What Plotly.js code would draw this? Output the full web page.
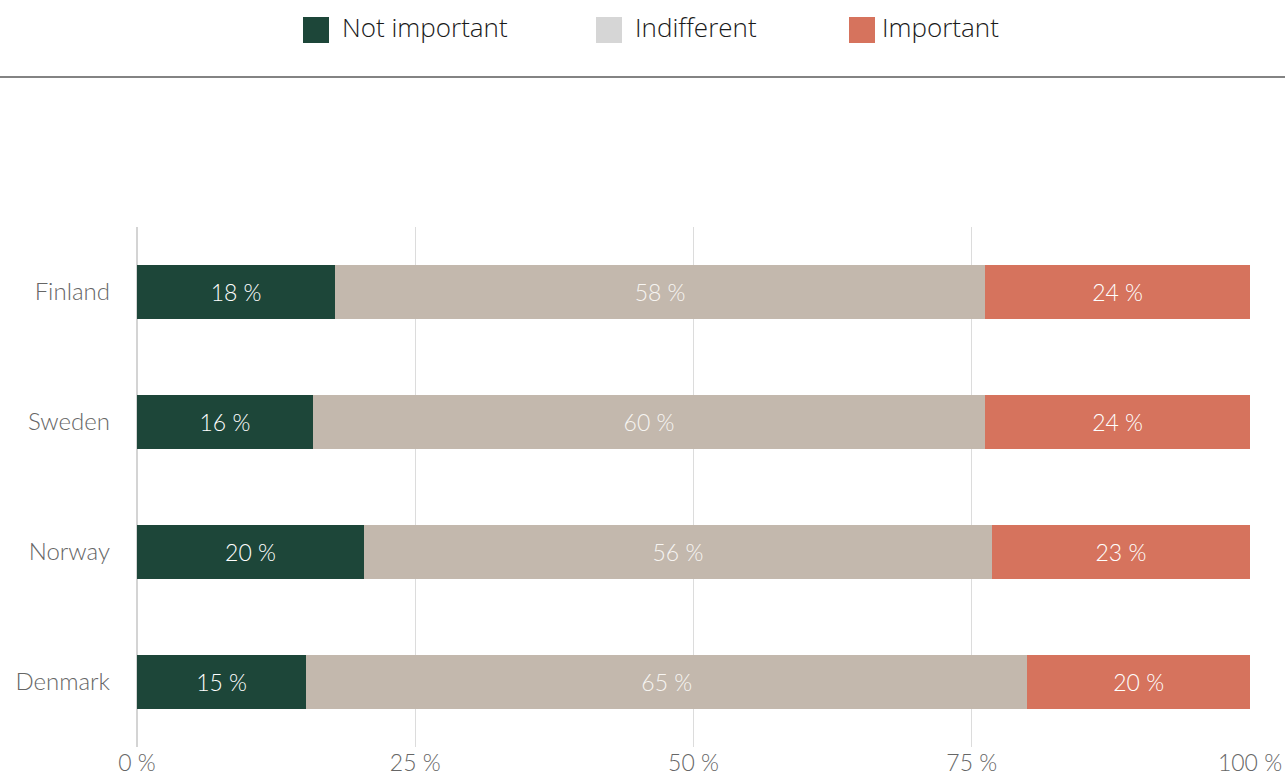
<!DOCTYPE html>
<html>
<head>
<meta charset="utf-8">
<script src="https://cdn.plot.ly/plotly-3.0.1.min.js"></script>
<style>html,body{margin:0;padding:0;background:#fff;}#chart{width:1285px;height:777px;}</style>
</head>
<body>
<div id="chart"></div>
<script>
const countries = ["Finland", "Sweden", "Norway", "Denmark"];
const seriesNames = ["Not important", "Indifferent", "Important"];
const notImportant = [17.8, 15.8, 20.4, 15.2];
const indifferent = [58.4, 60.4, 56.4, 64.8];
const important = [23.8, 23.8, 23.2, 20.0];
const tickVals = [0, 25, 50, 75, 100];
const tickText = ["0 %", "25 %", "50 %", "75 %", "100 %"];

const barColors = ["#1d4639", "#c3b8ad", "#d6735d"];
const legendColors = ["#1d4639", "#d6d6d6", "#d6735d"];
const values = [notImportant, indifferent, important];

const FONT = "Lato, 'Open Sans', sans-serif";

const traces = values.map((v, i) => ({
  type: "bar",
  orientation: "h",
  name: seriesNames[i],
  y: countries,
  x: v,
  width: 0.41,
  marker: { color: barColors[i], line: { width: 0 } },
  texttemplate: "%{x:.0f} %",
  textposition: "inside",
  insidetextanchor: "middle",
  textfont: { family: FONT, size: 23, weight: 300, color: i === 1 ? "#f7f5f2" : "#ffffff" },
  hoverinfo: "skip",
  showlegend: false
}));

const W = 1285, H = 777;
const mL = 137, mR = 35, mT = 227, mB = 30;
const pw = W - mL - mR, ph = H - mT - mB;
const px = x => (x - mL) / pw;
const py = y => (H - mB - y) / ph;

const legendSwatchX = [303, 596, 849];
const legendTextX = [340, 633, 880];
const shapes = [];
const annotations = [];
seriesNames.forEach((n, i) => {
  shapes.push({
    type: "rect", xref: "paper", yref: "paper",
    x0: px(legendSwatchX[i]), x1: px(legendSwatchX[i] + 26),
    y0: py(43), y1: py(17),
    fillcolor: legendColors[i], line: { width: 0 }
  });
  annotations.push({
    xref: "paper", yref: "paper",
    x: px(legendTextX[i]), y: py(27),
    xanchor: "left", yanchor: "middle",
    text: n, showarrow: false,
    font: { family: "'Open Sans', sans-serif", size: 26, weight: 300, color: "#1a1a1a" }
  });
});
shapes.push({
  type: "line", xref: "paper", yref: "paper",
  x0: px(0), x1: px(W), y0: py(77), y1: py(77),
  line: { color: "#5a5a5a", width: 1.5 }
});

const layout = {
  width: W, height: H,
  barmode: "stack",
  paper_bgcolor: "#ffffff",
  plot_bgcolor: "#ffffff",
  margin: { l: mL, r: mR, t: mT, b: mB, pad: 0 },
  showlegend: false,
  font: { family: FONT, color: "#666666" },
  xaxis: {
    range: [0, 100],
    tickvals: tickVals,
    ticktext: tickText,
    showgrid: true,
    gridcolor: "#dcdcdc",
    gridwidth: 1,
    zeroline: true,
    zerolinecolor: "#d4d4d4",
    zerolinewidth: 2,
    showline: false,
    ticks: "",
    tickfont: { family: FONT, size: 23, weight: 300, color: "#666666" },
    fixedrange: true
  },
  yaxis: {
    type: "category",
    autorange: "reversed",
    showgrid: false,
    zeroline: false,
    showline: false,
    ticks: "",
    ticklabelstandoff: 26,
    tickfont: { family: FONT, size: 24, weight: 300, color: "#666666" },
    fixedrange: true
  },
  shapes: shapes,
  annotations: annotations
};

Plotly.newPlot("chart", traces, layout, { displayModeBar: false, staticPlot: true });
</script>
</body>
</html>
